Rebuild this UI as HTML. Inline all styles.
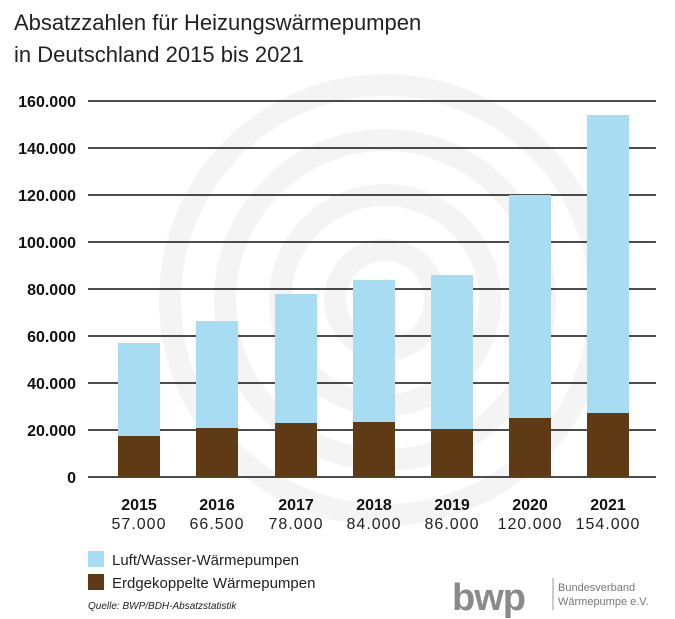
<!DOCTYPE html>
<html><head><meta charset="utf-8"><style>
html,body{margin:0;padding:0;background:#fff;}
svg{display:block;font-family:"Liberation Sans","DejaVu Sans",sans-serif;}
</style></head><body>
<svg width="675" height="619" viewBox="0 0 675 619" xmlns="http://www.w3.org/2000/svg">
<rect width="675" height="619" fill="#fff"/>
<g fill="none" stroke="#f4f4f4" stroke-width="22">
<circle cx="385" cy="300" r="215"/>
<circle cx="385" cy="300" r="160"/>
<circle cx="385" cy="300" r="105"/>
<circle cx="385" cy="300" r="50"/>
</g>
<text x="14" y="30" font-size="22" fill="#222">Absatzzahlen für Heizungswärmepumpen</text>
<text x="14" y="62" font-size="22" fill="#222">in Deutschland 2015 bis 2021</text>
<g font-size="16" fill="#111" text-anchor="end" font-weight="bold">
<text x="76" y="107">160.000</text><text x="76" y="154">140.000</text>
<text x="76" y="201">120.000</text><text x="76" y="248">100.000</text>
<text x="76" y="295">80.000</text><text x="76" y="342">60.000</text>
<text x="76" y="389">40.000</text><text x="76" y="436">20.000</text>
<text x="76" y="483">0</text>
</g>
<g stroke="#111" stroke-width="1.5">
<line x1="88" x2="656" y1="101" y2="101"/><line x1="88" x2="656" y1="148" y2="148"/>
<line x1="88" x2="656" y1="195" y2="195"/><line x1="88" x2="656" y1="242" y2="242"/>
<line x1="88" x2="656" y1="289" y2="289"/><line x1="88" x2="656" y1="336" y2="336"/>
<line x1="88" x2="656" y1="383" y2="383"/><line x1="88" x2="656" y1="430" y2="430"/>
<line x1="88" x2="656" y1="477" y2="477"/>
</g>
<g fill="#a8dcf3">
<rect x="118" y="343" width="42" height="134"/>
<rect x="196" y="321" width="42" height="156"/>
<rect x="275" y="294" width="42" height="183"/>
<rect x="353" y="280" width="42" height="197"/>
<rect x="431" y="275" width="42" height="202"/>
<rect x="509" y="195" width="42" height="282"/>
<rect x="587" y="115" width="42" height="362"/>
</g>
<g fill="#5e3a15">
<rect x="118" y="436" width="42" height="41"/>
<rect x="196" y="428" width="42" height="49"/>
<rect x="275" y="423" width="42" height="54"/>
<rect x="353" y="422" width="42" height="55"/>
<rect x="431" y="429" width="42" height="48"/>
<rect x="509" y="418" width="42" height="59"/>
<rect x="587" y="413" width="42" height="64"/>
</g>
<g font-size="16" fill="#111" text-anchor="middle" font-weight="bold">
<text x="139" y="510">2015</text><text x="217" y="510">2016</text><text x="296" y="510">2017</text>
<text x="374" y="510">2018</text><text x="452" y="510">2019</text><text x="530" y="510">2020</text><text x="608" y="510">2021</text>
</g>
<g font-size="16" fill="#222" text-anchor="middle" letter-spacing="1">
<text x="139" y="529">57.000</text><text x="217" y="529">66.500</text><text x="296" y="529">78.000</text>
<text x="374" y="529">84.000</text><text x="452" y="529">86.000</text><text x="530" y="529">120.000</text><text x="608" y="529">154.000</text>
</g>
<rect x="88" y="551" width="16" height="16" fill="#a8dcf3"/>
<text x="112" y="565" font-size="15" fill="#222">Luft/Wasser-Wärmepumpen</text>
<rect x="88" y="574" width="16" height="16" fill="#5e3a15"/>
<text x="112" y="588" font-size="15" fill="#222">Erdgekoppelte Wärmepumpen</text>
<text x="88" y="609" font-size="10" font-style="italic" fill="#222">Quelle: BWP/BDH-Absatzstatistik</text>
<text x="452" y="610" font-size="38" font-weight="bold" fill="#8a8a8a" letter-spacing="-1">bwp</text>
<line x1="553" y1="578" x2="553" y2="610" stroke="#999" stroke-width="1"/>
<text x="558" y="591" font-size="11" fill="#777">Bundesverband</text>
<text x="558" y="605" font-size="11" fill="#777">Wärmepumpe e.V.</text>
</svg>
</body></html>
